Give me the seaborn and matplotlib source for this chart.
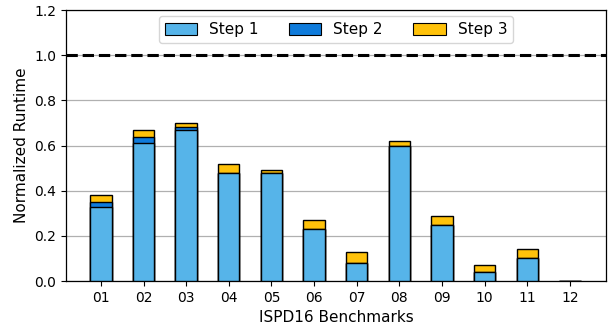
import numpy as np
import pandas as pd
import matplotlib
matplotlib.use("Agg")
import matplotlib.pyplot as plt
import seaborn as sns
from matplotlib.patches import Patch

benchmarks = ["01", "02", "03", "04", "05", "06", "07", "08", "09", "10", "11", "12"]
step1 = [0.33, 0.61, 0.67, 0.48, 0.48, 0.23, 0.08, 0.60, 0.25, 0.04, 0.10, 0.0]
step2 = [0.02, 0.03, 0.01, 0.00, 0.00, 0.00, 0.00, 0.00, 0.00, 0.00, 0.00, 0.0]
step3 = [0.03, 0.03, 0.02, 0.04, 0.01, 0.04, 0.05, 0.02, 0.04, 0.03, 0.04, 0.0]

colors = {"Step 1": "#56B4E9", "Step 2": "#0F7BDB", "Step 3": "#FFC20A"}

sns.set_style("white")
plt.rcParams["font.family"] = ["DejaVu Sans"]
plt.rcParams.update({"text.color": "black", "axes.labelcolor": "black",
                     "xtick.color": "black", "ytick.color": "black"})

df = pd.DataFrame({"bench": benchmarks, "s1": step1, "s2": step2, "s3": step3})
df["c2"] = df["s1"] + df["s2"]
df["c3"] = df["c2"] + df["s3"]

fig, ax = plt.subplots(figsize=(6.16, 3.26), dpi=100)
fig.subplots_adjust(left=0.107, right=0.984, bottom=0.138, top=0.969)

# stack by drawing cumulative totals from the back
for col, lab in [("c3", "Step 3"), ("c2", "Step 2"), ("s1", "Step 1")]:
    sns.barplot(data=df, x="bench", y=col, color=colors[lab], width=0.5,
                edgecolor="black", linewidth=1, saturation=1, ax=ax, zorder=3)

ax.axhline(1.0, color="black", linestyle="--", linewidth=2.2, zorder=4)
ax.set_xlim(-0.82, 11.85)
ax.set_ylim(0, 1.2)
ax.set_yticks(np.arange(0, 1.21, 0.2))
ax.set_yticklabels([f"{v:.1f}" for v in np.arange(0, 1.21, 0.2)])
ax.yaxis.grid(True, color="#b0b0b0", linewidth=0.9, zorder=0)
ax.set_axisbelow(True)
ax.set_xlabel("ISPD16 Benchmarks", fontsize=11)
ax.set_ylabel("Normalized Runtime", fontsize=11)
ax.tick_params(axis="both", labelsize=10, length=3.5, direction="out",
               bottom=True, left=True, colors="black")
for s in ax.spines.values():
    s.set_color("black")
    s.set_linewidth(0.9)

handles = [Patch(facecolor=colors[k], edgecolor="black", linewidth=0.8, label=k)
           for k in ["Step 1", "Step 2", "Step 3"]]
ax.legend(handles=handles, loc="upper center", ncol=3, fontsize=11,
          frameon=True, handlelength=2.1, handleheight=0.85, columnspacing=2.0,
          borderaxespad=0.4)

fig.savefig("out.png", dpi=100)
